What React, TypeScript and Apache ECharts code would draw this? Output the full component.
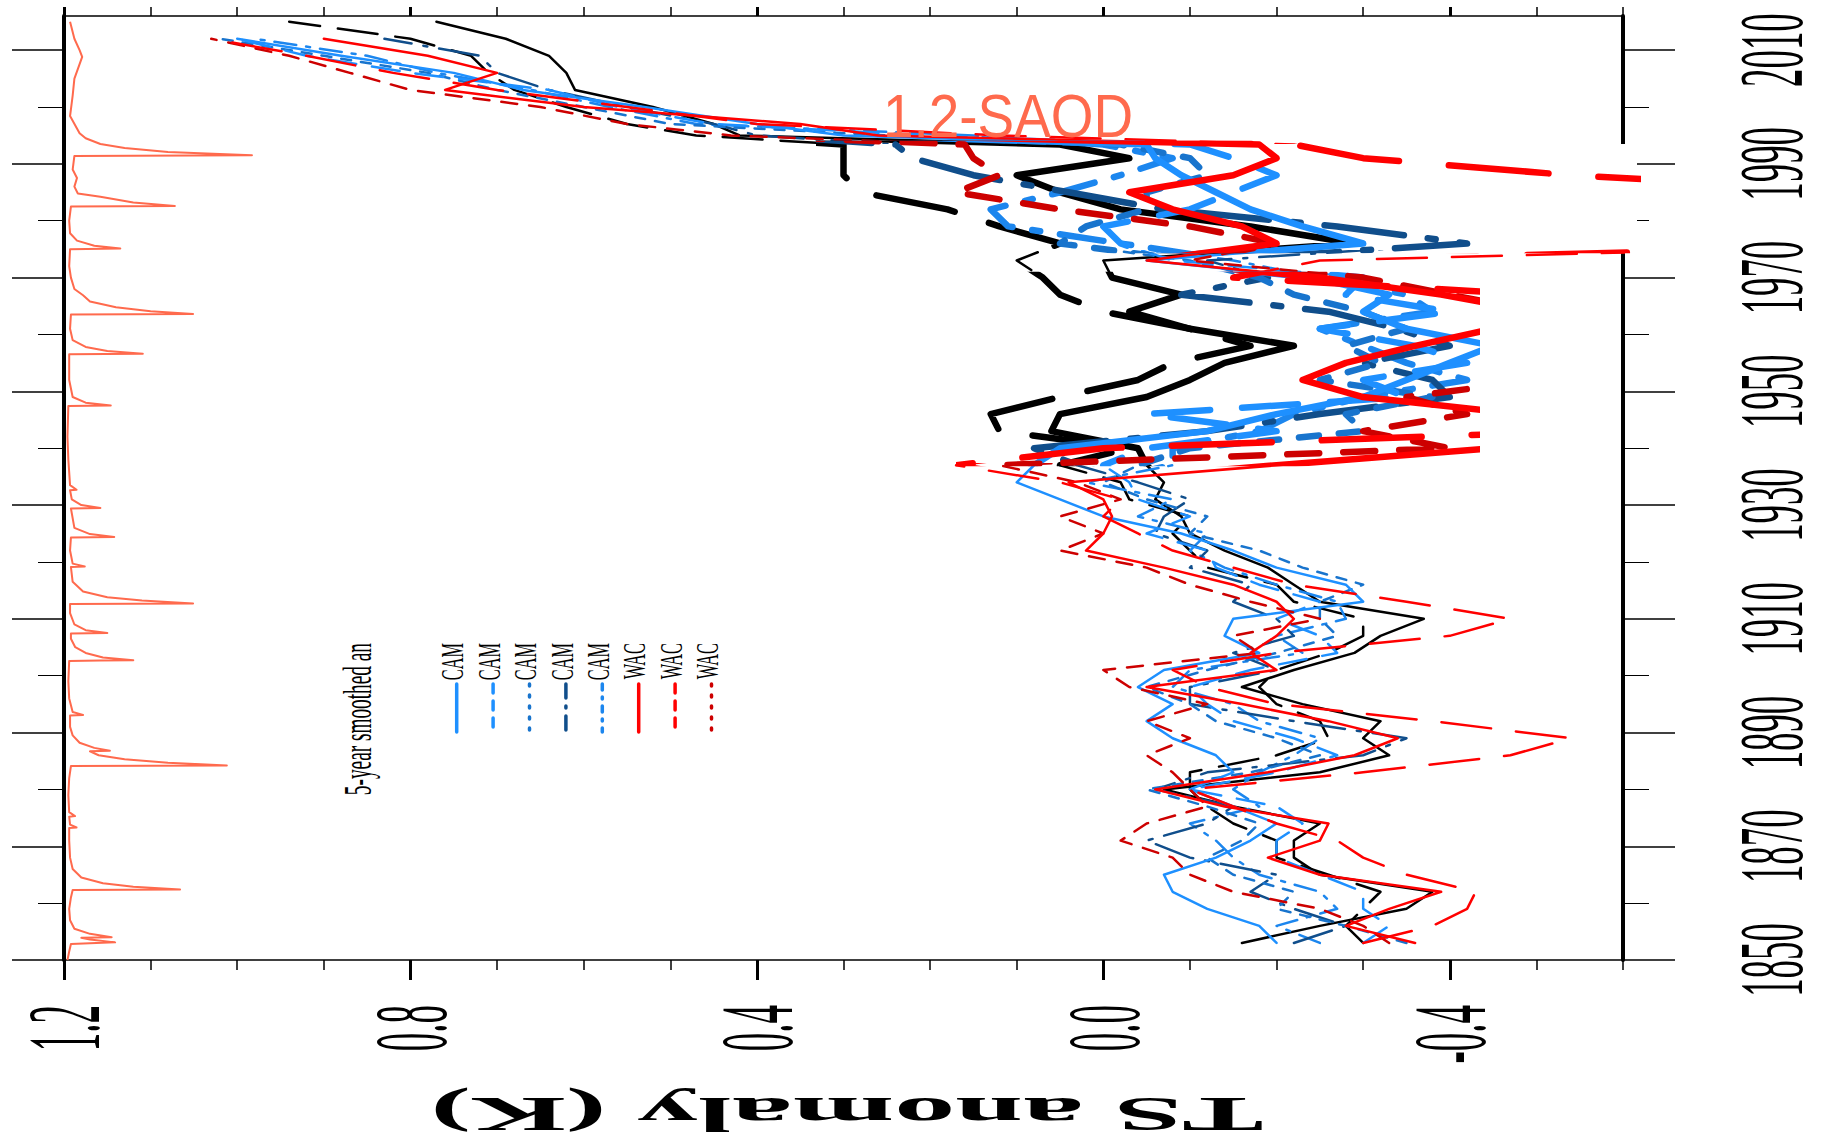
import React, { useEffect, useRef } from "react";
import * as echarts from "echarts";

// ---------------- data ----------------
const years = [1853, 1856, 1859, 1862, 1865, 1868, 1871, 1874, 1877, 1880, 1883, 1886, 1889, 1892, 1895, 1898, 1901, 1904, 1907, 1910, 1913, 1916, 1919, 1922, 1925, 1928, 1931, 1934, 1937, 1940, 1943, 1946, 1949, 1952, 1955, 1958, 1961, 1964, 1967, 1970, 1973, 1976, 1979, 1982, 1985, 1988, 1991, 1993.4, 1995, 1997, 2000, 2003, 2006, 2009, 2012, 2015];

const obsSolid = [-0.16, -0.25, -0.35, -0.38, -0.25, -0.22, -0.22, -0.25, -0.15, -0.07, -0.25, -0.33, -0.3, -0.32, -0.23, -0.16, -0.22, -0.29, -0.32, -0.37, -0.25, -0.22, -0.19, -0.14, -0.1, -0.09, -0.06, -0.07, -0.05, -0.04, 0.06, 0.05, -0.05, -0.1, -0.14, -0.22, -0.1, -0.03, -0.09, -0.01, 0.0, -0.29, -0.17, -0.02, 0.05, 0.1, -0.03, 0.05, 0.42, 0.45, 0.52, 0.61, 0.62, 0.64, 0.69, 0.77];
const obsDashed = [-0.3, -0.28, -0.3, -0.32, -0.26, -0.2, -0.2, -0.15, -0.12, -0.1, -0.1, -0.2, -0.26, -0.25, -0.2, -0.18, -0.2, -0.26, -0.3, -0.3, -0.22, -0.2, -0.12, -0.1, -0.08, -0.1, -0.03, -0.02, 0.05, -0.03, 0.12, 0.13, 0.05, -0.04, -0.08, -0.17, -0.1, 0.0, 0.05, 0.07, 0.1, 0.05, 0.12, 0.18, 0.28, 0.3, 0.3, 0.3, 0.47, 0.55, 0.62, 0.68, 0.71, 0.73, 0.8, 0.94];
const cam1 = [-0.2, -0.18, -0.12, -0.08, -0.07, -0.13, -0.17, -0.2, -0.15, -0.1, -0.15, -0.13, -0.08, -0.05, -0.08, -0.04, -0.07, -0.18, -0.14, -0.15, -0.3, -0.28, -0.2, -0.15, -0.09, 0.0, 0.05, 0.1, 0.08, 0.05, -0.12, -0.2, -0.3, -0.35, -0.4, -0.45, -0.35, -0.3, -0.33, -0.24, -0.05, -0.3, -0.23, -0.17, -0.13, -0.09, -0.06, -0.05, 0.3, 0.4, 0.53, 0.67, 0.75, 0.88, 1.0, null];
const cam2 = [-0.3, -0.33, -0.3, -0.3, -0.25, -0.2, -0.2, -0.23, -0.2, -0.1, -0.2, -0.27, -0.22, -0.15, -0.12, -0.1, -0.17, -0.27, -0.25, -0.2, -0.25, -0.18, -0.13, -0.12, -0.05, -0.1, -0.04, -0.03, 0.0, -0.05, -0.2, -0.05, -0.35, -0.3, -0.42, -0.36, -0.25, -0.4, -0.28, -0.3, -0.08, -0.02, 0.0, -0.1, -0.15, -0.2, -0.15, -0.1, 0.2, 0.45, 0.56, 0.64, 0.8, 0.92, 1.0, null];
const cam3 = [-0.35, -0.28, -0.2, -0.22, -0.15, -0.12, -0.16, -0.18, -0.12, -0.05, -0.17, -0.25, -0.2, -0.13, -0.1, -0.05, -0.12, -0.2, -0.27, -0.25, -0.25, -0.3, -0.23, -0.18, -0.1, -0.12, -0.05, 0.0, -0.04, -0.1, -0.3, -0.28, -0.38, -0.25, -0.32, -0.28, -0.35, -0.3, -0.22, -0.18, -0.1, 0.05, 0.02, -0.05, -0.05, -0.12, -0.1, -0.02, 0.25, 0.5, 0.6, 0.7, 0.78, 0.9, 1.02, null];
const cam4 = [-0.22, -0.28, -0.22, -0.17, -0.2, -0.1, -0.05, -0.12, -0.15, -0.06, -0.12, -0.3, -0.35, -0.22, -0.1, -0.1, -0.2, -0.15, -0.22, -0.2, -0.15, -0.17, -0.1, -0.12, -0.06, -0.07, -0.1, -0.04, 0.03, 0.08, -0.12, -0.25, -0.4, -0.38, -0.3, -0.4, -0.34, -0.26, -0.09, -0.19, -0.12, -0.42, -0.27, -0.07, 0.04, 0.15, 0.22, 0.24, 0.4, 0.45, 0.55, 0.64, 0.7, 0.72, 0.83, null];
const cam5 = [-0.25, -0.2, -0.27, -0.25, -0.18, -0.15, -0.13, -0.1, -0.18, -0.15, -0.18, -0.22, -0.25, -0.18, -0.15, -0.08, -0.1, -0.23, -0.2, -0.28, -0.27, -0.2, -0.14, -0.1, -0.12, -0.04, -0.08, 0.02, -0.08, -0.08, -0.18, -0.22, -0.3, -0.42, -0.35, -0.3, -0.25, -0.38, -0.35, -0.25, -0.15, -0.02, 0.11, 0.13, 0.05, -0.02, -0.08, 0.0, 0.15, 0.47, 0.57, 0.66, 0.77, 0.85, 0.98, null];
const wac1 = [-0.36, -0.28, -0.33, -0.39, -0.25, -0.19, -0.25, -0.26, -0.14, -0.06, -0.19, -0.29, -0.34, -0.26, -0.16, -0.05, -0.2, -0.17, -0.2, -0.22, -0.2, -0.15, -0.07, 0.02, 0.0, -0.01, 0.0, 0.04, -0.2, -0.45, -0.5, -0.48, -0.3, -0.23, -0.28, -0.36, -0.45, -0.5, -0.39, -0.25, -0.05, -0.2, -0.16, -0.08, -0.03, -0.15, -0.2, -0.18, 0.26, 0.35, 0.6, 0.76, 0.7, 0.78, 0.9, null];
const wac2 = [-0.3, -0.38, -0.42, -0.43, -0.35, -0.3, -0.27, -0.2, -0.15, -0.1, -0.3, -0.47, -0.54, -0.38, -0.2, -0.12, -0.08, -0.2, -0.4, -0.47, -0.35, -0.22, -0.15, -0.08, -0.04, 0.0, -0.02, 0.05, 0.17, 0.0, -0.55, -0.5, -0.45, -0.5, -0.55, -0.5, -0.5, -0.55, -0.5, -0.15, -0.25, -1.0, -1.0, -1.0, -0.9, -0.54, -0.3, -0.22, 0.12, 0.4, 0.55, 0.7, 0.82, 0.92, 1.03, null];
const wac3 = [-0.33, -0.3, -0.25, -0.15, -0.1, -0.08, -0.02, -0.05, -0.12, -0.1, -0.08, -0.05, -0.1, -0.05, -0.12, -0.03, 0.0, -0.18, -0.15, -0.25, -0.17, -0.1, -0.05, 0.05, 0.0, 0.05, -0.02, 0.03, 0.12, -0.4, -0.3, -0.42, -0.35, -0.5, -0.45, -0.5, -0.45, -0.5, -0.4, -0.3, -0.1, -0.2, -0.1, 0.05, 0.17, 0.12, 0.15, 0.16, 0.43, 0.55, 0.65, 0.8, 0.87, 0.94, 1.03, null];

const saodYears = [1850.0, 1851.5, 1852.8, 1853.1, 1853.6, 1853.9, 1854.0, 1854.6, 1855.5, 1857, 1859, 1861, 1862.3, 1862.4, 1862.9, 1863.5, 1864.5, 1866, 1868, 1871, 1873.2, 1873.3, 1873.8, 1875.2, 1875.3, 1876, 1879, 1882, 1884.1, 1884.2, 1884.7, 1885.3, 1886.0, 1886.7, 1886.8, 1887.3, 1888.2, 1889.5, 1891, 1893.0, 1893.1, 1893.6, 1896, 1899, 1902.6, 1902.65, 1902.7, 1903.2, 1904, 1905, 1906.5, 1907.4, 1907.5, 1908, 1909, 1911, 1912.6, 1912.7, 1913.2, 1913.8, 1914.8, 1916.5, 1919.1, 1919.2, 1919.7, 1922, 1924.3, 1924.4, 1924.9, 1926, 1929.4, 1929.5, 1930, 1931, 1932.6, 1932.7, 1933.5, 1938, 1942, 1947.4, 1947.5, 1948, 1949, 1952, 1956.5, 1956.6, 1957.1, 1957.8, 1959, 1961, 1963.5, 1963.6, 1964.1, 1964.8, 1965.8, 1966.9, 1968, 1970, 1972, 1975.0, 1975.1, 1975.6, 1976.5, 1977.8, 1980, 1982.5, 1982.6, 1983.2, 1984.2, 1984.8, 1986, 1987.5, 1989, 1991.4, 1991.5, 1992.1, 1992.8, 1993.5, 1994.5, 1995.4, 1998.4, 2002, 2005, 2008.8, 2010, 2012, 2015];
const saodValues = [0.004, 0.006, 0.008, 0.059, 0.03, 0.02, 0.055, 0.03, 0.012, 0.007, 0.006, 0.008, 0.01, 0.134, 0.08, 0.045, 0.02, 0.01, 0.007, 0.006, 0.006, 0.0145, 0.007, 0.006, 0.0127, 0.006, 0.005, 0.006, 0.008, 0.188, 0.12, 0.07, 0.04, 0.03, 0.053, 0.035, 0.018, 0.01, 0.007, 0.007, 0.022, 0.01, 0.006, 0.005, 0.006, 0.042, 0.08, 0.045, 0.025, 0.013, 0.008, 0.008, 0.05, 0.025, 0.012, 0.007, 0.007, 0.149, 0.09, 0.05, 0.022, 0.01, 0.008, 0.024, 0.01, 0.007, 0.008, 0.058, 0.03, 0.012, 0.008, 0.042, 0.02, 0.009, 0.007, 0.0145, 0.007, 0.005, 0.004, 0.005, 0.054, 0.025, 0.01, 0.006, 0.006, 0.091, 0.05, 0.025, 0.01, 0.007, 0.008, 0.149, 0.1, 0.06, 0.03, 0.022, 0.012, 0.008, 0.006, 0.007, 0.065, 0.035, 0.015, 0.007, 0.006, 0.008, 0.128, 0.08, 0.042, 0.016, 0.012, 0.015, 0.01, 0.012, 0.217, 0.12, 0.07, 0.042, 0.025, 0.018, 0.007, 0.01, 0.012, 0.021, 0.018, 0.012, 0.007];

const valueTicksMajor = [1.2, 0.8, 0.4, 0.0, -0.4];
const valueTickLabels = ["1.2", "0.8", "0.4", "0.0", "-0.4"];
const valueTicksMinor = [1.1, 1.0, 0.9, 0.7, 0.6, 0.5, 0.3, 0.2, 0.1, -0.1, -0.2, -0.3, -0.5, -0.6];
const allValueTicks = [1.2, 1.1, 1.0, 0.9, 0.8, 0.7, 0.6, 0.5, 0.4, 0.3, 0.2, 0.1, 0.0, -0.1, -0.2, -0.3, -0.4, -0.5, -0.6];
const yearTicksMajor = [1850, 1870, 1890, 1910, 1930, 1950, 1970, 1990, 2010];
const yearTickLabels = ["1850", "1870", "1890", "1910", "1930", "1950", "1970", "1990", "2010"];
const yearTicksMinor = [1860, 1880, 1900, 1920, 1940, 1960, 1980, 2000];
const legendTitle = "5-year smoothed an";
const legendNames = ["CAM", "CAM", "CAM", "CAM", "CAM", "WAC", "WAC", "WAC"];
const axisTitle = "TS anomaly (K)";
const saodLabel = "1.2-SAOD";

// ---------------- styles / layout ----------------
const GRID = { left: 64, top: 16, width: 1559, height: 944 };
const X_MIN = -0.6, X_MAX = 1.2, Y_MIN = 1850, Y_MAX = 2016;
const INSET_A = { left: 820, top: 144, width: 817, height: 106 };
const INSET_B = { left: 960, top: 275, width: 516, height: 188 };
const MASK_B = { left: 960, top: 275, width: 660, height: 188 };
const SERIF = "'Liberation Serif', 'Times New Roman', serif";
const SANS = "'Liberation Sans', Arial, sans-serif";
const VALUE_FONT = 104;
const VALUE_SCALE = 0.356;
const YEAR_FONT = 92;
const YEAR_SCALE = 0.4;
const YEAR_LABEL_X = 1771;

type Sty = { name: string; data: (number | null)[]; color: string; dash: number[] | null; legendDash?: number[] | null; legend?: number };
const SERIES: Sty[] = [
  { name: "OBS2", data: obsDashed, color: "#000000", dash: [40, 18] },
  { name: "OBS", data: obsSolid, color: "#000000", dash: null },
  { name: "CAM5", data: cam5, color: "#1C86EE", dash: [22, 10, 4, 10], legendDash: [6, 7, 2, 7], legend: 4 },
  { name: "CAM4", data: cam4, color: "#104E8B", dash: [40, 12, 4, 12], legendDash: [14, 8, 2, 8], legend: 3 },
  { name: "CAM3", data: cam3, color: "#1874CD", dash: [10, 10], legendDash: [2, 9], legend: 2 },
  { name: "CAM2", data: cam2, color: "#1E90FF", dash: [28, 16], legendDash: [9, 8], legend: 1 },
  { name: "CAM1", data: cam1, color: "#1E90FF", dash: null, legendDash: null, legend: 0 },
  { name: "WAC3", data: wac3, color: "#CD0000", dash: [16, 12], legendDash: [2, 9], legend: 7 },
  { name: "WAC2", data: wac2, color: "#FF0000", dash: [50, 25], legendDash: [9, 8], legend: 6 },
  { name: "WAC1", data: wac1, color: "#FF0000", dash: null, legendDash: null, legend: 5 },
];

function valueAtPx(px: number) {
  return X_MAX - ((px - GRID.left) / GRID.width) * (X_MAX - X_MIN);
}
function yearAtPx(py: number) {
  return Y_MIN + ((GRID.top + GRID.height - py) / GRID.height) * (Y_MAX - Y_MIN);
}

function lineSeries(s: Sty, idx: number, width: number, dashScale: number, z: number) {
  return {
    type: "line",
    name: s.name + "_" + idx,
    xAxisIndex: idx,
    yAxisIndex: idx,
    data: years.map((yr, i) => (s.data[i] == null ? null : [s.data[i], yr])).filter((d) => d !== null),
    showSymbol: false,
    symbol: "none",
    silent: true,
    clip: true,
    z,
    lineStyle: {
      color: s.color,
      width,
      type: s.dash ? s.dash.map((d) => d * dashScale) : "solid",
      cap: "round",
      join: "round",
    },
  };
}

function mainX(position: string, ticks: number[], len: number, w: number, showLine: boolean) {
  return {
    gridIndex: 0, type: "value", min: X_MIN, max: X_MAX, inverse: true, position,
    axisLine: { show: showLine, onZero: false, lineStyle: { color: "#000", width: 1.5 } },
    axisTick: { show: true, inside: false, length: len, customValues: ticks, lineStyle: { color: "#000", width: w } },
    axisLabel: { show: false }, splitLine: { show: false },
  };
}
function mainY(position: string, ticks: number[], len: number, w: number, showLine: boolean) {
  return {
    gridIndex: 0, type: "value", min: Y_MIN, max: Y_MAX, position,
    axisLine: { show: showLine, onZero: false, lineStyle: { color: "#000", width: 4 } },
    axisTick: { show: true, inside: false, length: len, customValues: ticks, lineStyle: { color: "#000", width: w } },
    axisLabel: { show: false }, splitLine: { show: false },
  };
}
function insetX(r: any, gi: number) {
  return { gridIndex: gi, type: "value", show: false, inverse: true, min: valueAtPx(r.left + r.width), max: valueAtPx(r.left) };
}
function insetY(r: any, gi: number) {
  return { gridIndex: gi, type: "value", show: false, min: yearAtPx(r.top + r.height), max: yearAtPx(r.top) };
}

function sText(text: string, x: number, y: number, o: any) {
  return {
    type: "text", x, y, rotation: o.rotation ?? 0, scaleX: o.scaleX ?? 1, scaleY: o.scaleY ?? 1, z: 100, silent: true,
    style: {
      text, fontSize: o.fontSize, fontFamily: o.fontFamily ?? SERIF, fontWeight: o.fontWeight ?? "normal",
      fill: o.fill ?? "#000", align: o.align ?? "center", verticalAlign: o.verticalAlign ?? "middle",
    },
  };
}

export default function App() {
  const ref = useRef<HTMLDivElement>(null);
  useEffect(() => {
    if (!ref.current) return;
    const chart = echarts.init(ref.current, undefined, { renderer: "svg" });

    const series: any[] = [];
    series.push({
      type: "line", name: "SAOD", xAxisIndex: 0, yAxisIndex: 0, showSymbol: false, symbol: "none", silent: true, z: 1,
      data: saodYears.map((yr, i) => [1.2 - saodValues[i], yr]),
      lineStyle: { color: "#ff6a4d", width: 2, join: "round" },
    });
    SERIES.forEach((s) => series.push(lineSeries(s, 0, 2.5, 1, 2)));
    SERIES.forEach((s) => series.push(lineSeries(s, 4, 6.5, 2, 60)));
    SERIES.forEach((s) => series.push(lineSeries(s, 5, 6.5, 2, 60)));

    const option: any = {
      animation: false,
      backgroundColor: "#ffffff",
      grid: [
        { left: GRID.left, top: GRID.top, width: GRID.width, height: GRID.height, containLabel: false },
        { left: INSET_A.left, top: INSET_A.top, width: INSET_A.width, height: INSET_A.height, containLabel: false },
        { left: INSET_B.left, top: INSET_B.top, width: INSET_B.width, height: INSET_B.height, containLabel: false },
      ],
      xAxis: [
        mainX("bottom", valueTicksMajor, 20, 3, true),
        mainX("bottom", valueTicksMinor, 10, 1.5, false),
        mainX("top", valueTicksMajor, 9, 3, true),
        mainX("top", allValueTicks, 9, 1.5, false),
        insetX(INSET_A, 1),
        insetX(INSET_B, 2),
      ],
      yAxis: [
        mainY("right", yearTicksMajor, 52, 1.5, true),
        mainY("right", yearTicksMinor, 26, 1, false),
        mainY("left", yearTicksMajor, 52, 1.5, true),
        mainY("left", yearTicksMinor, 26, 1, false),
        insetY(INSET_A, 1),
        insetY(INSET_B, 2),
      ],
      series,
    };
    chart.setOption(option);

    const toPx = (v: number, yr: number) => chart.convertToPixel({ xAxisIndex: 0, yAxisIndex: 0 }, [v, yr]) as number[];
    const g: any[] = [];
    g.push({ type: "rect", z: 50, silent: true, shape: { x: INSET_A.left, y: INSET_A.top, width: INSET_A.width, height: INSET_A.height }, style: { fill: "#ffffff" } });
    g.push({ type: "rect", z: 50, silent: true, shape: { x: MASK_B.left, y: MASK_B.top, width: MASK_B.width, height: MASK_B.height }, style: { fill: "#ffffff" } });

    const halfYearLen = (2 * YEAR_FONT * YEAR_SCALE) / 2;
    yearTicksMajor.forEach((yr, i) => {
      const p = toPx(0, yr);
      g.push(sText(yearTickLabels[i], YEAR_LABEL_X, p[1] - halfYearLen, { rotation: Math.PI / 2, fontSize: YEAR_FONT, scaleX: YEAR_SCALE, align: "right" }));
    });
    valueTicksMajor.forEach((v, i) => {
      const p = toPx(v, 1850);
      g.push(sText(valueTickLabels[i], p[0], 1005, { rotation: Math.PI / 2, fontSize: VALUE_FONT, scaleX: VALUE_SCALE, align: "right" }));
    });
    g.push(sText(axisTitle, 847, 1114, { rotation: Math.PI, fontSize: 48, scaleX: 2.54, fontWeight: "bold" }));
    g.push(sText(saodLabel, 883, 115, { fontSize: 61, scaleX: 0.9, fontFamily: SANS, fill: "#ff6a4d", align: "left" }));

    // legend
    g.push(sText(legendTitle, 358, 643, { rotation: Math.PI / 2, fontSize: 40.8, scaleX: 0.473, align: "right" }));
    SERIES.filter((s) => s.legend !== undefined).forEach((s) => {
      const i = s.legend as number;
      const lx = 456.7 + 36.4 * i;
      g.push(sText(legendNames[i], lx - 4, 643, { rotation: Math.PI / 2, fontSize: 32.6, scaleX: 0.5, align: "right" }));
      g.push({
        type: "line", z: 100, silent: true,
        shape: { x1: lx, y1: 684, x2: lx, y2: 732 },
        style: { stroke: s.color, lineWidth: 3.5, lineDash: s.legendDash ? s.legendDash : null, lineCap: "round" },
      });
    });

    chart.setOption({ graphic: { elements: g } });
    return () => chart.dispose();
  }, []);
  return <div ref={ref} style={{ position: "absolute", left: 0, top: 0, width: 1823, height: 1145 }} />;
}
